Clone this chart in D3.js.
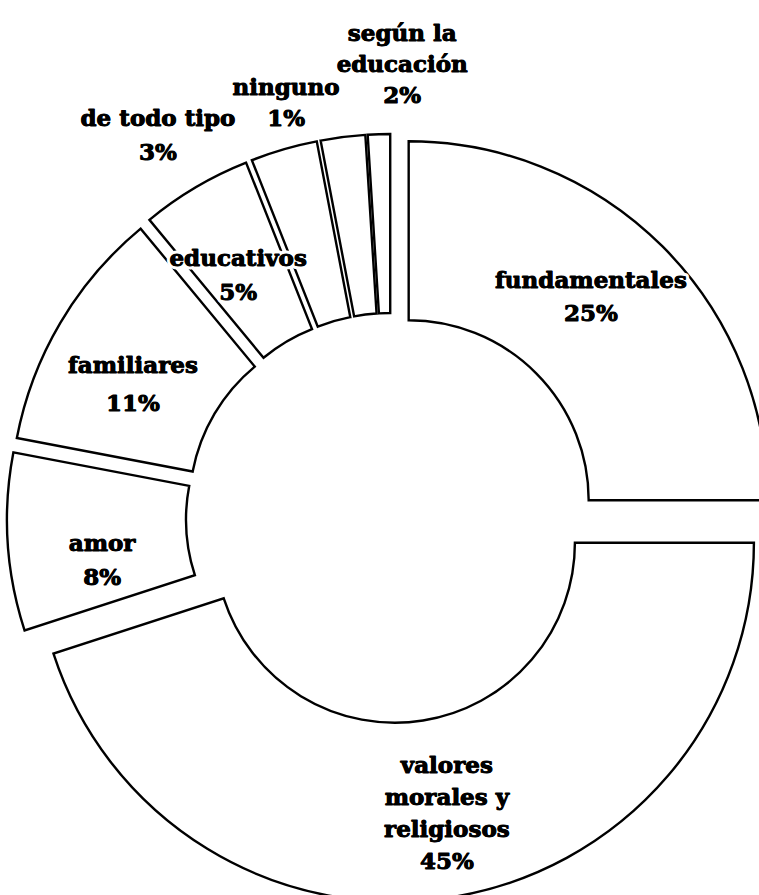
<!DOCTYPE html>
<html>
<head>
<meta charset="utf-8">
<script src="https://cdn.jsdelivr.net/npm/d3@7"></script>
<style>
  html, body { margin: 0; padding: 0; background: #ffffff; }
  svg { display: block; }
</style>
</head>
<body>
<div id="chart"></div>
<script>
// ---- data (clockwise from 12 o'clock) ----
const categories = ["fundamentales", "valores morales y religiosos", "amor", "familiares",
                    "educativos", "de todo tipo", "ninguno", "según la educación"];
// slice shares as drawn
const shares = [25, 45, 8, 11, 5, 3, 2, 1];
// percentages printed on the labels
const percentLabels = ["25%", "45%", "8%", "11%", "5%", "3%", "1%", "2%"];
// label text lines
const nameLines = [["fundamentales"], ["valores", "morales y", "religiosos"], ["amor"], ["familiares"],
                   ["educativos"], ["de todo tipo"], ["ninguno"], ["según la", "educación"]];

// ---- layout ----
const W = 759, H = 895;
const cx = 391, cy = 518, innerR = 180, outerR = 359, explode = 25;
// label placement: [angle (deg, clockwise from top), distance from slice centre]
const labelPolar = [[41.8, 273.4], [169.1, 274.8], [261.3, 267], [297.1, 265.8],
                    [327.7, 262.2], [327.8, 424.2], [345.4, 403.8], [1.6, 429.2]];
const lineHeights = [33, 32, 34, 38, 34, 34, 31, 31];

const svg = d3.select("#chart").append("svg").attr("width", W).attr("height", H);

const data = categories.map((c, i) => ({ name: c, value: shares[i], pct: percentLabels[i], lines: nameLines[i], idx: i }));
const pie = d3.pie().value(d => d.value).sort(null).startAngle(0).endAngle(2 * Math.PI);
const arcs = pie(data);
const arc = d3.arc().innerRadius(innerR).outerRadius(outerR);

function offset(a, r) { return [r * Math.sin(a), -r * Math.cos(a)]; }

const g = svg.append("g").attr("transform", `translate(${cx},${cy})`);

const slices = g.selectAll("g.slice").data(arcs).join("g").attr("class", "slice")
  .attr("transform", d => {
    const m = (d.startAngle + d.endAngle) / 2;
    const [dx, dy] = offset(m, explode);
    return `translate(${dx},${dy})`;
  });

slices.append("path")
  .attr("d", arc)
  .attr("fill", "#ffffff")
  .attr("stroke", "#000000")
  .attr("stroke-width", 2.4)
  .attr("stroke-linejoin", "miter");

// labels
const labels = g.append("g");
arcs.forEach(d => {
  const i = d.data.idx;
  const m = (d.startAngle + d.endAngle) / 2;
  const [sx, sy] = offset(m, explode);
  const [la, lr] = labelPolar[i];
  const [lx, ly] = offset(la * Math.PI / 180, lr);
  const ax = sx + lx, ay = sy + ly;
  const lines = d.data.lines.concat([d.data.pct]);
  const n = lines.length, lh = lineHeights[i];
  // white halo layer, then heavy black text layer
  [["#fff", 7], ["#000", 0.9]].forEach(([sc, sw]) => {
    const t = labels.append("text")
      .attr("text-anchor", "middle")
      .attr("font-family", "'DejaVu Serif', serif")
      .attr("font-weight", "bold")
      .attr("font-size", 23)
      .attr("fill", "#000")
      .attr("stroke", sc)
      .attr("stroke-width", sw)
      .attr("paint-order", "stroke")
      .attr("stroke-linejoin", "round");
    lines.forEach((s, k) => {
      t.append("tspan").attr("x", ax).attr("y", ay + (k - (n - 1) / 2) * lh + 8).text(s);
    });
  });
});
</script>
</body>
</html>
